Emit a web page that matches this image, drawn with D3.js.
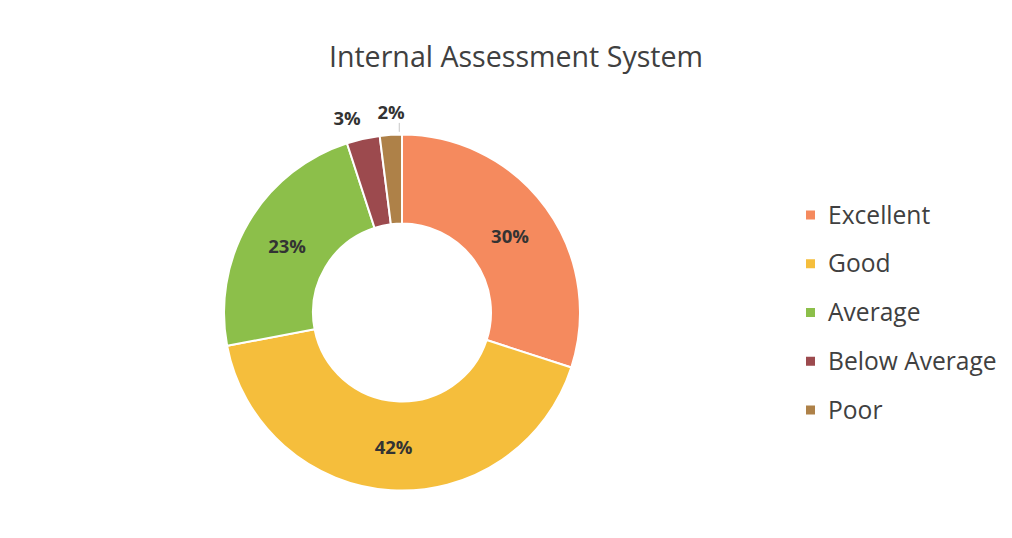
<!DOCTYPE html>
<html><head><meta charset="utf-8">
<script src="https://cdn.jsdelivr.net/npm/d3@7"></script>
<style>body{margin:0;background:#fff;}svg{display:block;}</style>
</head><body>
<svg id="c" width="1012" height="538"></svg>
<script>
const categories = ["Excellent", "Good", "Average", "Below Average", "Poor"];
const values = [30, 42, 23, 3, 2];
const colors = ["#F58A5E", "#F5BE3C", "#8CBF4A", "#9C4A4E", "#AE8148"];
const title = "Internal Assessment System";

const svg = d3.select("#c");
const W = 1012, H = 538;
svg.append("rect").attr("width", W).attr("height", H).attr("fill", "#fff");

const font = "'Open Sans', Lato, sans-serif";
svg.append("text").attr("x", 516).attr("y", 57).attr("dy", "0.35em").attr("text-anchor", "middle")
  .attr("font-family", font).attr("font-size", 28.6).attr("fill", "#404040").text(title);

const cx = 402, cy = 312.5, rOut = 178, rIn = 89;
const g = svg.append("g").attr("transform", `translate(${cx},${cy})`);
const data = categories.map((c, i) => ({cat: c, v: values[i], col: colors[i]}));
const pie = d3.pie().value(d => d.v).sort(null);
const arc = d3.arc().innerRadius(rIn).outerRadius(rOut);
const arcs = pie(data);
g.selectAll("path").data(arcs).join("path")
  .attr("d", arc).attr("fill", d => d.data.col)
  .attr("stroke", "#fff").attr("stroke-width", 2);

const total = d3.sum(values);
const labelArc = d3.arc().innerRadius((rIn + rOut) / 2).outerRadius((rIn + rOut) / 2);
arcs.forEach((d, i) => {
  const pct = Math.round(d.data.v / total * 100) + "%";
  let x, y;
  if (d.data.v >= 10) {
    [x, y] = labelArc.centroid(d);
    y += 2;
  } else {
    const mid = (d.startAngle + d.endAngle) / 2;
    const rr = rOut + 28;
    x = Math.sin(mid) * rr; y = -Math.cos(mid) * rr;
    if (d.data.cat === "Poor") {
      const r0 = rOut + 3, r1 = rOut + 14;
      const lx = Math.sin(d.endAngle - 0.004) * r0 - 2;
      g.append("line").attr("x1", lx).attr("x2", lx)
        .attr("y1", -Math.cos(mid) * r0).attr("y2", -Math.cos(mid) * r1 + 2)
        .attr("stroke", "#c8c8c8").attr("stroke-width", 1);
      x = x + 2; y = y + 6;
    } else {
      x = x - 10; y = y + 7;
    }
  }
  g.append("text").attr("x", x).attr("y", y).attr("dy", "0.35em")
    .attr("text-anchor", "middle").attr("font-family", font)
    .attr("font-weight", "bold").attr("font-size", 18.5).attr("fill", "#333").text(pct);
});

const leg = svg.append("g");
const ly = d3.scalePoint().domain(categories).range([215, 410]);
categories.forEach((c, i) => {
  leg.append("rect").attr("x", 806).attr("y", ly(c) - 4.5).attr("width", 9).attr("height", 9)
    .attr("fill", colors[i]);
  leg.append("text").attr("x", 828).attr("y", ly(c)).attr("dy", "0.35em")
    .attr("font-family", font).attr("font-size", 24.6).attr("fill", "#404040").text(c);
});
</script>
</body></html>
